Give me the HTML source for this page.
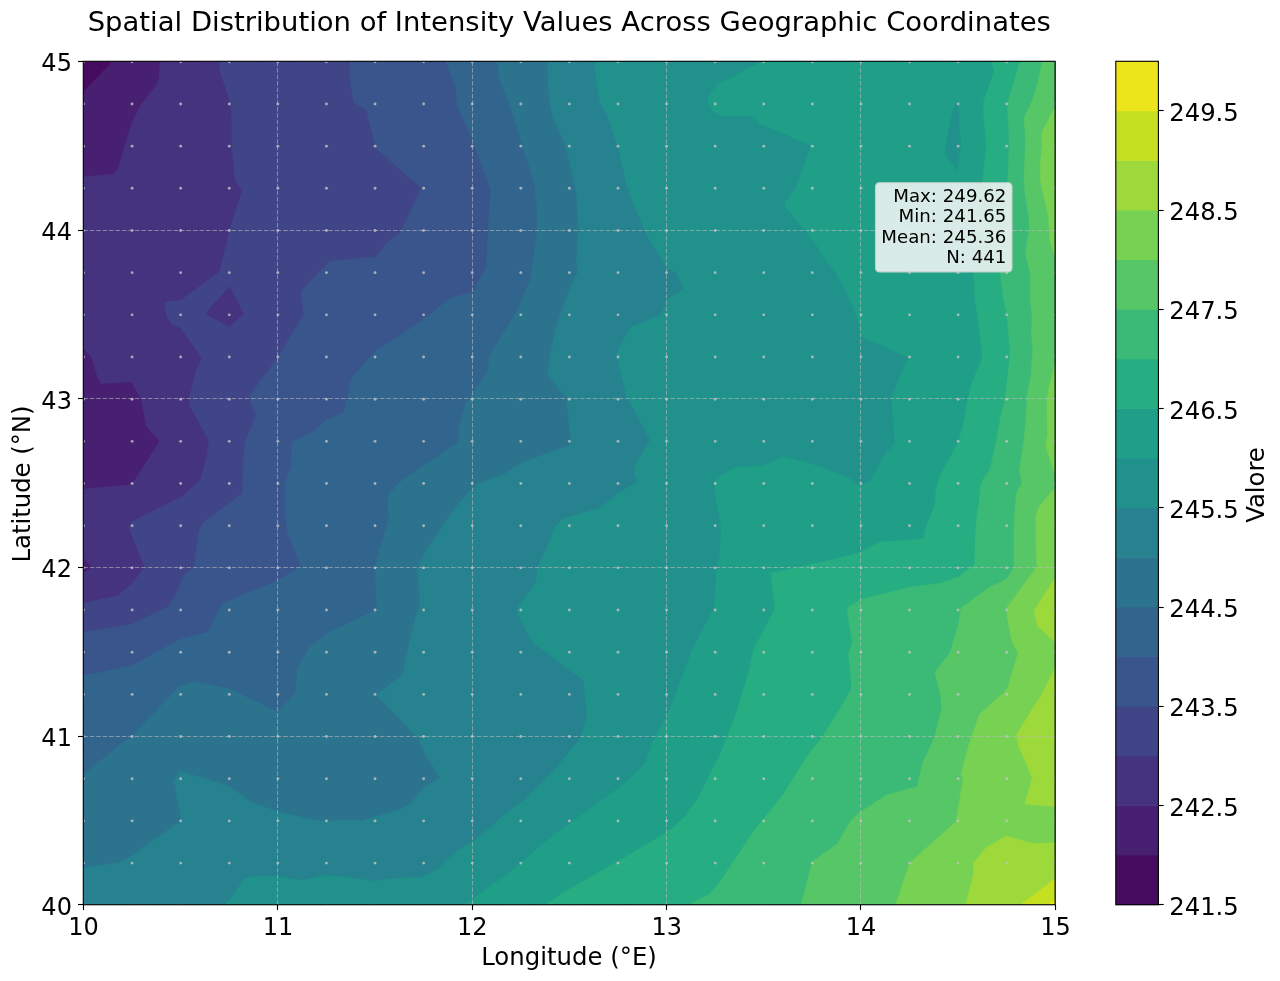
<!DOCTYPE html>
<html lang="en"><head><meta charset="utf-8"><title>Spatial Distribution of Intensity Values</title>
<style>html,body{margin:0;padding:0;background:#fff;}body{width:1280px;height:981px;overflow:hidden;position:relative;}svg{display:block;will-change:transform;}text{font-family:'DejaVu Sans', 'Liberation Sans', sans-serif;fill:#000;}</style></head><body>
<svg width="1280" height="981" viewBox="0 0 1280 981">
<defs><clipPath id="axclip"><rect x="83.30" y="61.30" width="971.80" height="843.45"/></clipPath></defs>
<rect x="0" y="0" width="1280" height="981" fill="#ffffff"/>
<g clip-path="url(#axclip)">
<rect x="82.3" y="60.3" width="973.8" height="845.5" fill="#460b5e"/>
<polygon points="123.5,50.0 1070.0,50.0 1070.0,920.0 70.0,920.0 70.0,105.8" fill="#482071" stroke="#482071" stroke-width="0.5"/>
<polygon points="160.0,50.0 160.0,61.5 158.8,79.2 156.2,85.5 141.2,104.2 131.2,124.2 117.5,170.5 112.5,174.2 83.5,176.8 70.0,177.0 70.0,920.0 1070.0,920.0 1070.0,50.0" fill="#46337f" stroke="#46337f" stroke-width="0.5"/>
<polygon points="70.0,348.0 83.5,348.8 91.2,356.2 97.5,377.5 101.2,383.8 131.2,382.0 141.2,400.0 146.2,426.2 159.5,441.2 133.8,481.2 128.8,485.0 83.5,488.8 70.0,489.0" fill="#482071"/>
<polygon points="70.0,558.0 83.5,558.2 92.5,567.0 83.5,573.2 70.0,573.5" fill="#482071"/>
<polygon points="219.5,50.0 219.5,61.5 220.0,71.8 229.5,99.2 231.8,115.5 231.8,145.5 235.0,180.5 242.5,189.8 230.0,228.0 225.5,248.0 219.5,271.8 181.2,300.0 165.0,302.0 166.2,315.0 171.2,323.8 180.0,327.5 202.0,357.5 196.2,370.0 189.5,397.5 190.0,406.2 208.8,440.0 206.2,460.0 200.0,480.0 182.5,496.2 131.2,522.0 128.8,528.2 145.0,567.0 131.2,584.5 117.5,595.8 83.5,603.2 70.0,604.0 70.0,920.0 1070.0,920.0 1070.0,50.0" fill="#404588" stroke="#404588" stroke-width="0.5"/>
<polygon points="229.5,286.2 243.8,313.8 229.5,327.0 205.0,313.8" fill="#46337f"/>
<polygon points="350.0,50.0 350.0,61.5 350.0,80.5 353.8,103.0 366.2,109.2 373.8,140.5 376.8,149.5 400.0,169.5 421.2,188.0 400.0,233.0 387.5,241.8 376.2,256.8 330.0,261.0 302.5,289.2 301.2,294.2 303.8,315.0 277.5,357.5 250.0,395.0 250.0,401.2 256.2,415.0 245.0,442.5 243.0,460.0 242.5,492.5 241.2,494.5 202.5,523.2 198.8,532.0 193.8,567.0 183.8,574.5 176.2,594.5 167.5,607.0 131.2,624.5 83.5,632.0 70.0,633.0 70.0,920.0 1070.0,920.0 1070.0,50.0" fill="#39558c" stroke="#39558c" stroke-width="0.5"/>
<polygon points="445.8,50.0 445.8,61.5 456.2,88.0 457.0,105.5 472.5,140.5 490.5,189.2 488.8,218.0 486.2,267.0 472.5,292.5 451.2,297.5 421.2,321.2 400.0,335.5 373.8,352.5 351.2,378.8 343.8,412.5 326.2,420.0 313.8,431.2 292.0,442.5 291.2,467.5 285.0,483.8 285.0,514.5 288.0,533.2 301.2,565.8 277.5,580.8 222.5,603.2 207.5,632.0 180.0,639.5 131.2,665.8 83.5,675.8 70.0,676.5 70.0,920.0 1070.0,920.0 1070.0,50.0" fill="#32658e" stroke="#32658e" stroke-width="0.5"/>
<polygon points="497.5,50.0 497.5,61.5 498.8,78.0 510.0,105.5 522.5,145.5 535.0,185.5 537.0,213.0 537.0,233.0 531.2,275.5 530.0,280.0 517.5,310.0 490.0,355.0 487.5,372.5 471.2,395.0 465.0,405.0 458.0,430.0 459.5,438.8 456.2,443.8 400.0,482.0 387.5,495.8 388.8,519.5 375.0,567.0 377.0,609.5 330.0,632.0 310.0,647.0 297.5,668.2 295.5,693.5 277.5,711.8 230.0,689.0 195.0,681.5 180.0,686.0 131.2,736.5 83.5,774.0 70.0,775.0 70.0,920.0 1070.0,920.0 1070.0,50.0" fill="#2c738e" stroke="#2c738e" stroke-width="0.5"/>
<polygon points="547.0,50.0 547.0,61.5 548.0,83.0 550.0,105.5 553.8,120.5 565.0,144.2 572.5,175.5 576.2,193.0 578.0,218.0 577.5,248.0 576.2,261.8 578.0,272.0 572.5,282.5 565.0,302.5 557.5,322.5 551.2,350.0 548.0,370.0 549.5,377.5 566.2,397.5 568.0,412.5 570.8,440.0 570.0,445.0 522.5,462.5 502.5,475.0 477.5,483.8 470.0,491.0 453.8,509.5 423.8,554.5 418.0,569.5 420.0,604.5 415.0,618.2 402.5,674.5 400.0,677.0 376.2,695.0 400.0,719.0 418.8,739.0 425.0,754.0 440.0,777.8 425.0,786.5 410.0,804.0 400.0,809.5 362.5,820.2 317.5,821.0 277.5,811.5 250.0,801.5 230.0,786.5 180.0,771.0 173.8,780.2 181.2,820.2 131.2,856.5 117.5,862.8 83.5,867.8 70.0,868.5 70.0,920.0 1070.0,920.0 1070.0,50.0" fill="#26828e" stroke="#26828e" stroke-width="0.5"/>
<polygon points="595.0,50.0 595.0,61.5 595.8,80.5 600.0,103.0 607.5,115.5 617.5,145.5 627.5,188.0 635.0,208.0 646.2,234.2 665.0,265.5 676.2,273.0 683.8,288.5 666.2,300.0 662.5,312.5 657.5,316.2 630.0,327.5 616.2,353.8 620.0,370.0 626.2,395.0 650.0,440.0 633.8,467.5 633.8,472.5 638.0,482.0 617.5,493.2 600.0,507.8 563.8,518.2 555.0,527.0 547.5,547.0 537.5,567.0 536.2,582.0 517.5,608.2 517.5,613.2 530.0,638.2 535.0,644.5 583.8,680.5 586.2,708.0 586.2,717.8 580.0,739.0 555.0,769.0 522.5,801.5 507.5,811.5 480.0,836.5 457.5,850.2 437.5,869.0 423.8,877.0 400.0,877.8 375.0,881.0 326.2,874.8 302.5,880.2 277.5,876.5 257.5,876.0 245.0,877.8 230.0,899.0 225.0,903.5 223.0,920.0 1070.0,920.0 1070.0,50.0" fill="#21918c" stroke="#21918c" stroke-width="0.5"/>
<polygon points="762.0,50.0 761.0,61.5 736.0,75.5 720.0,83.0 711.0,92.0 707.0,100.5 712.5,110.5 720.0,115.5 736.0,115.5 752.0,115.5 761.0,124.0 811.0,145.5 797.0,185.5 785.0,203.0 786.0,208.0 811.0,238.0 833.5,270.0 844.8,287.5 857.2,317.5 861.0,336.2 908.5,357.5 892.2,395.0 892.2,405.0 895.2,442.5 883.5,456.2 871.0,480.0 859.8,486.2 846.0,476.2 811.0,463.8 783.5,457.0 761.0,466.2 736.0,467.0 720.0,476.2 713.8,481.2 716.2,499.5 721.0,527.0 720.0,554.5 716.2,574.5 714.5,607.0 691.2,652.0 675.0,697.0 665.0,719.0 652.5,741.5 646.2,761.5 635.0,774.0 617.5,789.0 555.0,834.0 507.5,874.0 472.5,899.0 466.2,903.5 464.0,920.0 1070.0,920.0 1070.0,50.0" fill="#1f9f88" stroke="#1f9f88" stroke-width="0.5"/>
<polygon points="957.4,100.6 958.7,105.6 959.3,128.2 960.6,138.2 960.6,148.3 957.4,170.9 948.7,159.6 944.9,154.6 945.2,145.8 953.1,108.2" fill="#21918c"/>
<polygon points="990.5,50.0 990.7,61.5 994.4,70.5 983.8,100.6 983.2,106.0 984.4,123.2 986.3,145.8 982.5,180.3 973.7,273.3 975.0,300.0 977.5,315.0 981.9,350.2 981.9,358.9 972.5,381.5 968.7,395.3 964.3,420.0 958.7,441.3 939.3,477.7 936.1,490.2 934.9,505.3 926.1,526.6 923.6,539.1 896.0,541.0 879.8,542.0 861.0,552.0 843.5,557.0 771.0,573.2 774.8,609.5 753.5,649.5 749.8,667.0 746.0,681.5 736.0,714.0 720.0,755.2 710.0,774.0 697.5,799.0 685.0,816.5 671.2,829.0 647.5,844.0 617.5,861.5 565.0,891.5 547.5,903.5 545.0,920.0 1070.0,920.0 1070.0,50.0" fill="#26ad81" stroke="#26ad81" stroke-width="0.5"/>
<polygon points="1020.3,50.0 1020.1,61.5 1008.2,100.6 1007.6,110.7 1008.9,133.2 1008.9,153.3 1007.6,180.3 1000.1,273.3 1003.8,300.0 1007.0,315.0 1010.1,350.2 1009.5,361.4 1006.3,387.8 1003.8,404.1 1000.1,420.0 996.3,441.3 991.3,463.9 988.8,471.4 984.4,477.1 980.6,485.2 978.8,505.3 976.9,515.3 975.0,542.9 974.8,564.5 958.5,577.0 941.0,583.2 911.0,587.0 861.0,599.5 848.5,607.0 847.2,612.0 852.2,642.0 848.5,654.5 851.5,682.0 851.0,689.5 838.5,711.5 821.0,739.0 808.5,754.0 783.5,794.0 753.5,831.5 736.0,857.8 720.0,881.5 710.0,894.0 691.2,903.5 689.0,920.0 1070.0,920.0 1070.0,50.0" fill="#3aba76" stroke="#3aba76" stroke-width="0.5"/>
<polygon points="1042.3,50.0 1042.1,61.5 1037.7,83.1 1032.1,100.6 1023.9,118.2 1025.2,133.2 1025.2,148.3 1023.9,178.0 1025.2,195.6 1028.9,218.1 1029.5,228.2 1025.2,253.2 1030.2,273.3 1030.2,300.0 1032.1,315.0 1031.4,330.1 1032.7,350.2 1030.8,375.2 1027.0,395.3 1025.8,420.0 1023.9,441.3 1019.5,470.2 1022.0,482.7 1016.4,492.7 1015.1,506.5 1013.9,526.6 1013.9,542.9 1014.0,567.0 1007.2,578.2 986.0,589.5 961.0,608.2 958.5,624.5 949.8,653.2 934.8,672.0 941.0,696.5 941.5,709.0 934.8,736.5 922.2,764.0 917.2,786.5 886.0,795.2 861.0,811.5 851.0,820.2 837.2,844.0 812.2,861.5 804.8,891.5 801.0,903.5 800.0,920.0 1070.0,920.0 1070.0,50.0" fill="#56c667" stroke="#56c667" stroke-width="0.5"/>
<polygon points="1070.0,106.0 1054.9,106.9 1041.5,133.2 1042.1,145.8 1040.2,162.1 1040.2,178.0 1041.5,188.0 1048.4,215.6 1049.6,238.2 1053.7,253.2 1054.9,255.0 1070.0,256.0" fill="#77d153" stroke="#77d153" stroke-width="0.5"/>
<polygon points="1070.0,362.0 1054.9,362.7 1052.1,375.2 1049.0,386.5 1047.1,399.0 1047.1,420.0 1047.7,432.5 1045.8,446.3 1053.4,470.2 1054.9,472.7 1070.0,473.0" fill="#77d153" stroke="#77d153" stroke-width="0.5"/>
<polygon points="1070.0,487.5 1054.9,488.0 1038.9,506.5 1035.8,516.6 1035.8,542.9 1036.8,567.0 1007.2,607.0 1007.2,617.0 1012.2,642.0 1018.0,653.2 1014.8,664.0 1007.2,689.0 1001.0,695.2 979.8,714.0 969.8,741.5 961.0,774.0 963.0,779.0 956.0,821.5 909.8,862.8 896.0,903.5 895.0,920.0 1070.0,920.0" fill="#77d153" stroke="#77d153" stroke-width="0.5"/>
<polygon points="1070.0,578.0 1054.9,578.2 1034.0,610.8 1037.2,625.8 1054.9,642.0 1070.0,642.5" fill="#9dd93b" stroke="#9dd93b" stroke-width="0.5"/>
<polygon points="1070.0,668.0 1054.9,668.6 1048.4,680.7 1041.5,695.1 1031.4,710.2 1023.9,722.7 1016.4,735.2 1018.3,745.3 1032.2,777.9 1024.8,804.0 1054.9,806.5 1070.0,806.5" fill="#9dd93b" stroke="#9dd93b" stroke-width="0.5"/>
<polygon points="1070.0,842.5 1054.9,842.8 1033.5,843.5 1006.0,836.0 986.0,847.8 973.5,862.8 973.5,874.0 966.0,903.5 965.5,920.0 1070.0,920.0" fill="#9dd93b" stroke="#9dd93b" stroke-width="0.5"/>
<polygon points="1070.0,868.0 1054.9,879.0 1021.0,904.5 1000.0,920.0 1070.0,920.0" fill="#c5e021" stroke="#c5e021" stroke-width="0.5"/>
<polygon points="1070.0,895.0 1054.9,899.7 1048.5,904.5 1040.0,920.0 1070.0,920.0" fill="#ece51b" stroke="#ece51b" stroke-width="0.5"/>
<line x1="83.50" y1="904.75" x2="83.50" y2="61.30" stroke="#bebebe" stroke-opacity="0.58" stroke-width="1.0" stroke-dasharray="4.55 1.9" fill="none"/>
<line x1="277.50" y1="904.75" x2="277.50" y2="61.30" stroke="#bebebe" stroke-opacity="0.58" stroke-width="1.0" stroke-dasharray="4.55 1.9" fill="none"/>
<line x1="472.50" y1="904.75" x2="472.50" y2="61.30" stroke="#bebebe" stroke-opacity="0.58" stroke-width="1.0" stroke-dasharray="4.55 1.9" fill="none"/>
<line x1="666.50" y1="904.75" x2="666.50" y2="61.30" stroke="#bebebe" stroke-opacity="0.58" stroke-width="1.0" stroke-dasharray="4.55 1.9" fill="none"/>
<line x1="860.50" y1="904.75" x2="860.50" y2="61.30" stroke="#bebebe" stroke-opacity="0.58" stroke-width="1.0" stroke-dasharray="4.55 1.9" fill="none"/>
<line x1="1055.50" y1="904.75" x2="1055.50" y2="61.30" stroke="#bebebe" stroke-opacity="0.58" stroke-width="1.0" stroke-dasharray="4.55 1.9" fill="none"/>
<line x1="83.30" y1="904.50" x2="1055.10" y2="904.50" stroke="#bebebe" stroke-opacity="0.58" stroke-width="1.0" stroke-dasharray="4.55 1.9" fill="none"/>
<line x1="83.30" y1="736.50" x2="1055.10" y2="736.50" stroke="#bebebe" stroke-opacity="0.58" stroke-width="1.0" stroke-dasharray="4.55 1.9" fill="none"/>
<line x1="83.30" y1="567.50" x2="1055.10" y2="567.50" stroke="#bebebe" stroke-opacity="0.58" stroke-width="1.0" stroke-dasharray="4.55 1.9" fill="none"/>
<line x1="83.30" y1="398.50" x2="1055.10" y2="398.50" stroke="#bebebe" stroke-opacity="0.58" stroke-width="1.0" stroke-dasharray="4.55 1.9" fill="none"/>
<line x1="83.30" y1="230.50" x2="1055.10" y2="230.50" stroke="#bebebe" stroke-opacity="0.58" stroke-width="1.0" stroke-dasharray="4.55 1.9" fill="none"/>
<line x1="83.30" y1="61.50" x2="1055.10" y2="61.50" stroke="#bebebe" stroke-opacity="0.58" stroke-width="1.0" stroke-dasharray="4.55 1.9" fill="none"/>
<g fill="#c4c4c4" fill-opacity="0.8"><circle cx="83.50" cy="61.80" r="1.45"/><circle cx="83.50" cy="103.97" r="1.45"/><circle cx="83.50" cy="146.14" r="1.45"/><circle cx="83.50" cy="188.32" r="1.45"/><circle cx="83.50" cy="230.49" r="1.45"/><circle cx="83.50" cy="272.66" r="1.45"/><circle cx="83.50" cy="314.83" r="1.45"/><circle cx="83.50" cy="357.01" r="1.45"/><circle cx="83.50" cy="399.18" r="1.45"/><circle cx="83.50" cy="441.35" r="1.45"/><circle cx="83.50" cy="483.53" r="1.45"/><circle cx="83.50" cy="525.70" r="1.45"/><circle cx="83.50" cy="567.87" r="1.45"/><circle cx="83.50" cy="610.04" r="1.45"/><circle cx="83.50" cy="652.21" r="1.45"/><circle cx="83.50" cy="694.39" r="1.45"/><circle cx="83.50" cy="736.56" r="1.45"/><circle cx="83.50" cy="778.73" r="1.45"/><circle cx="83.50" cy="820.90" r="1.45"/><circle cx="83.50" cy="863.08" r="1.45"/><circle cx="83.50" cy="905.25" r="1.45"/><circle cx="132.09" cy="61.80" r="1.45"/><circle cx="132.09" cy="103.97" r="1.45"/><circle cx="132.09" cy="146.14" r="1.45"/><circle cx="132.09" cy="188.32" r="1.45"/><circle cx="132.09" cy="230.49" r="1.45"/><circle cx="132.09" cy="272.66" r="1.45"/><circle cx="132.09" cy="314.83" r="1.45"/><circle cx="132.09" cy="357.01" r="1.45"/><circle cx="132.09" cy="399.18" r="1.45"/><circle cx="132.09" cy="441.35" r="1.45"/><circle cx="132.09" cy="483.53" r="1.45"/><circle cx="132.09" cy="525.70" r="1.45"/><circle cx="132.09" cy="567.87" r="1.45"/><circle cx="132.09" cy="610.04" r="1.45"/><circle cx="132.09" cy="652.21" r="1.45"/><circle cx="132.09" cy="694.39" r="1.45"/><circle cx="132.09" cy="736.56" r="1.45"/><circle cx="132.09" cy="778.73" r="1.45"/><circle cx="132.09" cy="820.90" r="1.45"/><circle cx="132.09" cy="863.08" r="1.45"/><circle cx="132.09" cy="905.25" r="1.45"/><circle cx="180.68" cy="61.80" r="1.45"/><circle cx="180.68" cy="103.97" r="1.45"/><circle cx="180.68" cy="146.14" r="1.45"/><circle cx="180.68" cy="188.32" r="1.45"/><circle cx="180.68" cy="230.49" r="1.45"/><circle cx="180.68" cy="272.66" r="1.45"/><circle cx="180.68" cy="314.83" r="1.45"/><circle cx="180.68" cy="357.01" r="1.45"/><circle cx="180.68" cy="399.18" r="1.45"/><circle cx="180.68" cy="441.35" r="1.45"/><circle cx="180.68" cy="483.53" r="1.45"/><circle cx="180.68" cy="525.70" r="1.45"/><circle cx="180.68" cy="567.87" r="1.45"/><circle cx="180.68" cy="610.04" r="1.45"/><circle cx="180.68" cy="652.21" r="1.45"/><circle cx="180.68" cy="694.39" r="1.45"/><circle cx="180.68" cy="736.56" r="1.45"/><circle cx="180.68" cy="778.73" r="1.45"/><circle cx="180.68" cy="820.90" r="1.45"/><circle cx="180.68" cy="863.08" r="1.45"/><circle cx="180.68" cy="905.25" r="1.45"/><circle cx="229.27" cy="61.80" r="1.45"/><circle cx="229.27" cy="103.97" r="1.45"/><circle cx="229.27" cy="146.14" r="1.45"/><circle cx="229.27" cy="188.32" r="1.45"/><circle cx="229.27" cy="230.49" r="1.45"/><circle cx="229.27" cy="272.66" r="1.45"/><circle cx="229.27" cy="314.83" r="1.45"/><circle cx="229.27" cy="357.01" r="1.45"/><circle cx="229.27" cy="399.18" r="1.45"/><circle cx="229.27" cy="441.35" r="1.45"/><circle cx="229.27" cy="483.53" r="1.45"/><circle cx="229.27" cy="525.70" r="1.45"/><circle cx="229.27" cy="567.87" r="1.45"/><circle cx="229.27" cy="610.04" r="1.45"/><circle cx="229.27" cy="652.21" r="1.45"/><circle cx="229.27" cy="694.39" r="1.45"/><circle cx="229.27" cy="736.56" r="1.45"/><circle cx="229.27" cy="778.73" r="1.45"/><circle cx="229.27" cy="820.90" r="1.45"/><circle cx="229.27" cy="863.08" r="1.45"/><circle cx="229.27" cy="905.25" r="1.45"/><circle cx="277.86" cy="61.80" r="1.45"/><circle cx="277.86" cy="103.97" r="1.45"/><circle cx="277.86" cy="146.14" r="1.45"/><circle cx="277.86" cy="188.32" r="1.45"/><circle cx="277.86" cy="230.49" r="1.45"/><circle cx="277.86" cy="272.66" r="1.45"/><circle cx="277.86" cy="314.83" r="1.45"/><circle cx="277.86" cy="357.01" r="1.45"/><circle cx="277.86" cy="399.18" r="1.45"/><circle cx="277.86" cy="441.35" r="1.45"/><circle cx="277.86" cy="483.53" r="1.45"/><circle cx="277.86" cy="525.70" r="1.45"/><circle cx="277.86" cy="567.87" r="1.45"/><circle cx="277.86" cy="610.04" r="1.45"/><circle cx="277.86" cy="652.21" r="1.45"/><circle cx="277.86" cy="694.39" r="1.45"/><circle cx="277.86" cy="736.56" r="1.45"/><circle cx="277.86" cy="778.73" r="1.45"/><circle cx="277.86" cy="820.90" r="1.45"/><circle cx="277.86" cy="863.08" r="1.45"/><circle cx="277.86" cy="905.25" r="1.45"/><circle cx="326.45" cy="61.80" r="1.45"/><circle cx="326.45" cy="103.97" r="1.45"/><circle cx="326.45" cy="146.14" r="1.45"/><circle cx="326.45" cy="188.32" r="1.45"/><circle cx="326.45" cy="230.49" r="1.45"/><circle cx="326.45" cy="272.66" r="1.45"/><circle cx="326.45" cy="314.83" r="1.45"/><circle cx="326.45" cy="357.01" r="1.45"/><circle cx="326.45" cy="399.18" r="1.45"/><circle cx="326.45" cy="441.35" r="1.45"/><circle cx="326.45" cy="483.53" r="1.45"/><circle cx="326.45" cy="525.70" r="1.45"/><circle cx="326.45" cy="567.87" r="1.45"/><circle cx="326.45" cy="610.04" r="1.45"/><circle cx="326.45" cy="652.21" r="1.45"/><circle cx="326.45" cy="694.39" r="1.45"/><circle cx="326.45" cy="736.56" r="1.45"/><circle cx="326.45" cy="778.73" r="1.45"/><circle cx="326.45" cy="820.90" r="1.45"/><circle cx="326.45" cy="863.08" r="1.45"/><circle cx="326.45" cy="905.25" r="1.45"/><circle cx="375.04" cy="61.80" r="1.45"/><circle cx="375.04" cy="103.97" r="1.45"/><circle cx="375.04" cy="146.14" r="1.45"/><circle cx="375.04" cy="188.32" r="1.45"/><circle cx="375.04" cy="230.49" r="1.45"/><circle cx="375.04" cy="272.66" r="1.45"/><circle cx="375.04" cy="314.83" r="1.45"/><circle cx="375.04" cy="357.01" r="1.45"/><circle cx="375.04" cy="399.18" r="1.45"/><circle cx="375.04" cy="441.35" r="1.45"/><circle cx="375.04" cy="483.53" r="1.45"/><circle cx="375.04" cy="525.70" r="1.45"/><circle cx="375.04" cy="567.87" r="1.45"/><circle cx="375.04" cy="610.04" r="1.45"/><circle cx="375.04" cy="652.21" r="1.45"/><circle cx="375.04" cy="694.39" r="1.45"/><circle cx="375.04" cy="736.56" r="1.45"/><circle cx="375.04" cy="778.73" r="1.45"/><circle cx="375.04" cy="820.90" r="1.45"/><circle cx="375.04" cy="863.08" r="1.45"/><circle cx="375.04" cy="905.25" r="1.45"/><circle cx="423.63" cy="61.80" r="1.45"/><circle cx="423.63" cy="103.97" r="1.45"/><circle cx="423.63" cy="146.14" r="1.45"/><circle cx="423.63" cy="188.32" r="1.45"/><circle cx="423.63" cy="230.49" r="1.45"/><circle cx="423.63" cy="272.66" r="1.45"/><circle cx="423.63" cy="314.83" r="1.45"/><circle cx="423.63" cy="357.01" r="1.45"/><circle cx="423.63" cy="399.18" r="1.45"/><circle cx="423.63" cy="441.35" r="1.45"/><circle cx="423.63" cy="483.53" r="1.45"/><circle cx="423.63" cy="525.70" r="1.45"/><circle cx="423.63" cy="567.87" r="1.45"/><circle cx="423.63" cy="610.04" r="1.45"/><circle cx="423.63" cy="652.21" r="1.45"/><circle cx="423.63" cy="694.39" r="1.45"/><circle cx="423.63" cy="736.56" r="1.45"/><circle cx="423.63" cy="778.73" r="1.45"/><circle cx="423.63" cy="820.90" r="1.45"/><circle cx="423.63" cy="863.08" r="1.45"/><circle cx="423.63" cy="905.25" r="1.45"/><circle cx="472.22" cy="61.80" r="1.45"/><circle cx="472.22" cy="103.97" r="1.45"/><circle cx="472.22" cy="146.14" r="1.45"/><circle cx="472.22" cy="188.32" r="1.45"/><circle cx="472.22" cy="230.49" r="1.45"/><circle cx="472.22" cy="272.66" r="1.45"/><circle cx="472.22" cy="314.83" r="1.45"/><circle cx="472.22" cy="357.01" r="1.45"/><circle cx="472.22" cy="399.18" r="1.45"/><circle cx="472.22" cy="441.35" r="1.45"/><circle cx="472.22" cy="483.53" r="1.45"/><circle cx="472.22" cy="525.70" r="1.45"/><circle cx="472.22" cy="567.87" r="1.45"/><circle cx="472.22" cy="610.04" r="1.45"/><circle cx="472.22" cy="652.21" r="1.45"/><circle cx="472.22" cy="694.39" r="1.45"/><circle cx="472.22" cy="736.56" r="1.45"/><circle cx="472.22" cy="778.73" r="1.45"/><circle cx="472.22" cy="820.90" r="1.45"/><circle cx="472.22" cy="863.08" r="1.45"/><circle cx="472.22" cy="905.25" r="1.45"/><circle cx="520.81" cy="61.80" r="1.45"/><circle cx="520.81" cy="103.97" r="1.45"/><circle cx="520.81" cy="146.14" r="1.45"/><circle cx="520.81" cy="188.32" r="1.45"/><circle cx="520.81" cy="230.49" r="1.45"/><circle cx="520.81" cy="272.66" r="1.45"/><circle cx="520.81" cy="314.83" r="1.45"/><circle cx="520.81" cy="357.01" r="1.45"/><circle cx="520.81" cy="399.18" r="1.45"/><circle cx="520.81" cy="441.35" r="1.45"/><circle cx="520.81" cy="483.53" r="1.45"/><circle cx="520.81" cy="525.70" r="1.45"/><circle cx="520.81" cy="567.87" r="1.45"/><circle cx="520.81" cy="610.04" r="1.45"/><circle cx="520.81" cy="652.21" r="1.45"/><circle cx="520.81" cy="694.39" r="1.45"/><circle cx="520.81" cy="736.56" r="1.45"/><circle cx="520.81" cy="778.73" r="1.45"/><circle cx="520.81" cy="820.90" r="1.45"/><circle cx="520.81" cy="863.08" r="1.45"/><circle cx="520.81" cy="905.25" r="1.45"/><circle cx="569.40" cy="61.80" r="1.45"/><circle cx="569.40" cy="103.97" r="1.45"/><circle cx="569.40" cy="146.14" r="1.45"/><circle cx="569.40" cy="188.32" r="1.45"/><circle cx="569.40" cy="230.49" r="1.45"/><circle cx="569.40" cy="272.66" r="1.45"/><circle cx="569.40" cy="314.83" r="1.45"/><circle cx="569.40" cy="357.01" r="1.45"/><circle cx="569.40" cy="399.18" r="1.45"/><circle cx="569.40" cy="441.35" r="1.45"/><circle cx="569.40" cy="483.53" r="1.45"/><circle cx="569.40" cy="525.70" r="1.45"/><circle cx="569.40" cy="567.87" r="1.45"/><circle cx="569.40" cy="610.04" r="1.45"/><circle cx="569.40" cy="652.21" r="1.45"/><circle cx="569.40" cy="694.39" r="1.45"/><circle cx="569.40" cy="736.56" r="1.45"/><circle cx="569.40" cy="778.73" r="1.45"/><circle cx="569.40" cy="820.90" r="1.45"/><circle cx="569.40" cy="863.08" r="1.45"/><circle cx="569.40" cy="905.25" r="1.45"/><circle cx="617.99" cy="61.80" r="1.45"/><circle cx="617.99" cy="103.97" r="1.45"/><circle cx="617.99" cy="146.14" r="1.45"/><circle cx="617.99" cy="188.32" r="1.45"/><circle cx="617.99" cy="230.49" r="1.45"/><circle cx="617.99" cy="272.66" r="1.45"/><circle cx="617.99" cy="314.83" r="1.45"/><circle cx="617.99" cy="357.01" r="1.45"/><circle cx="617.99" cy="399.18" r="1.45"/><circle cx="617.99" cy="441.35" r="1.45"/><circle cx="617.99" cy="483.53" r="1.45"/><circle cx="617.99" cy="525.70" r="1.45"/><circle cx="617.99" cy="567.87" r="1.45"/><circle cx="617.99" cy="610.04" r="1.45"/><circle cx="617.99" cy="652.21" r="1.45"/><circle cx="617.99" cy="694.39" r="1.45"/><circle cx="617.99" cy="736.56" r="1.45"/><circle cx="617.99" cy="778.73" r="1.45"/><circle cx="617.99" cy="820.90" r="1.45"/><circle cx="617.99" cy="863.08" r="1.45"/><circle cx="617.99" cy="905.25" r="1.45"/><circle cx="666.58" cy="61.80" r="1.45"/><circle cx="666.58" cy="103.97" r="1.45"/><circle cx="666.58" cy="146.14" r="1.45"/><circle cx="666.58" cy="188.32" r="1.45"/><circle cx="666.58" cy="230.49" r="1.45"/><circle cx="666.58" cy="272.66" r="1.45"/><circle cx="666.58" cy="314.83" r="1.45"/><circle cx="666.58" cy="357.01" r="1.45"/><circle cx="666.58" cy="399.18" r="1.45"/><circle cx="666.58" cy="441.35" r="1.45"/><circle cx="666.58" cy="483.53" r="1.45"/><circle cx="666.58" cy="525.70" r="1.45"/><circle cx="666.58" cy="567.87" r="1.45"/><circle cx="666.58" cy="610.04" r="1.45"/><circle cx="666.58" cy="652.21" r="1.45"/><circle cx="666.58" cy="694.39" r="1.45"/><circle cx="666.58" cy="736.56" r="1.45"/><circle cx="666.58" cy="778.73" r="1.45"/><circle cx="666.58" cy="820.90" r="1.45"/><circle cx="666.58" cy="863.08" r="1.45"/><circle cx="666.58" cy="905.25" r="1.45"/><circle cx="715.17" cy="61.80" r="1.45"/><circle cx="715.17" cy="103.97" r="1.45"/><circle cx="715.17" cy="146.14" r="1.45"/><circle cx="715.17" cy="188.32" r="1.45"/><circle cx="715.17" cy="230.49" r="1.45"/><circle cx="715.17" cy="272.66" r="1.45"/><circle cx="715.17" cy="314.83" r="1.45"/><circle cx="715.17" cy="357.01" r="1.45"/><circle cx="715.17" cy="399.18" r="1.45"/><circle cx="715.17" cy="441.35" r="1.45"/><circle cx="715.17" cy="483.53" r="1.45"/><circle cx="715.17" cy="525.70" r="1.45"/><circle cx="715.17" cy="567.87" r="1.45"/><circle cx="715.17" cy="610.04" r="1.45"/><circle cx="715.17" cy="652.21" r="1.45"/><circle cx="715.17" cy="694.39" r="1.45"/><circle cx="715.17" cy="736.56" r="1.45"/><circle cx="715.17" cy="778.73" r="1.45"/><circle cx="715.17" cy="820.90" r="1.45"/><circle cx="715.17" cy="863.08" r="1.45"/><circle cx="715.17" cy="905.25" r="1.45"/><circle cx="763.76" cy="61.80" r="1.45"/><circle cx="763.76" cy="103.97" r="1.45"/><circle cx="763.76" cy="146.14" r="1.45"/><circle cx="763.76" cy="188.32" r="1.45"/><circle cx="763.76" cy="230.49" r="1.45"/><circle cx="763.76" cy="272.66" r="1.45"/><circle cx="763.76" cy="314.83" r="1.45"/><circle cx="763.76" cy="357.01" r="1.45"/><circle cx="763.76" cy="399.18" r="1.45"/><circle cx="763.76" cy="441.35" r="1.45"/><circle cx="763.76" cy="483.53" r="1.45"/><circle cx="763.76" cy="525.70" r="1.45"/><circle cx="763.76" cy="567.87" r="1.45"/><circle cx="763.76" cy="610.04" r="1.45"/><circle cx="763.76" cy="652.21" r="1.45"/><circle cx="763.76" cy="694.39" r="1.45"/><circle cx="763.76" cy="736.56" r="1.45"/><circle cx="763.76" cy="778.73" r="1.45"/><circle cx="763.76" cy="820.90" r="1.45"/><circle cx="763.76" cy="863.08" r="1.45"/><circle cx="763.76" cy="905.25" r="1.45"/><circle cx="812.35" cy="61.80" r="1.45"/><circle cx="812.35" cy="103.97" r="1.45"/><circle cx="812.35" cy="146.14" r="1.45"/><circle cx="812.35" cy="188.32" r="1.45"/><circle cx="812.35" cy="230.49" r="1.45"/><circle cx="812.35" cy="272.66" r="1.45"/><circle cx="812.35" cy="314.83" r="1.45"/><circle cx="812.35" cy="357.01" r="1.45"/><circle cx="812.35" cy="399.18" r="1.45"/><circle cx="812.35" cy="441.35" r="1.45"/><circle cx="812.35" cy="483.53" r="1.45"/><circle cx="812.35" cy="525.70" r="1.45"/><circle cx="812.35" cy="567.87" r="1.45"/><circle cx="812.35" cy="610.04" r="1.45"/><circle cx="812.35" cy="652.21" r="1.45"/><circle cx="812.35" cy="694.39" r="1.45"/><circle cx="812.35" cy="736.56" r="1.45"/><circle cx="812.35" cy="778.73" r="1.45"/><circle cx="812.35" cy="820.90" r="1.45"/><circle cx="812.35" cy="863.08" r="1.45"/><circle cx="812.35" cy="905.25" r="1.45"/><circle cx="860.94" cy="61.80" r="1.45"/><circle cx="860.94" cy="103.97" r="1.45"/><circle cx="860.94" cy="146.14" r="1.45"/><circle cx="860.94" cy="188.32" r="1.45"/><circle cx="860.94" cy="230.49" r="1.45"/><circle cx="860.94" cy="272.66" r="1.45"/><circle cx="860.94" cy="314.83" r="1.45"/><circle cx="860.94" cy="357.01" r="1.45"/><circle cx="860.94" cy="399.18" r="1.45"/><circle cx="860.94" cy="441.35" r="1.45"/><circle cx="860.94" cy="483.53" r="1.45"/><circle cx="860.94" cy="525.70" r="1.45"/><circle cx="860.94" cy="567.87" r="1.45"/><circle cx="860.94" cy="610.04" r="1.45"/><circle cx="860.94" cy="652.21" r="1.45"/><circle cx="860.94" cy="694.39" r="1.45"/><circle cx="860.94" cy="736.56" r="1.45"/><circle cx="860.94" cy="778.73" r="1.45"/><circle cx="860.94" cy="820.90" r="1.45"/><circle cx="860.94" cy="863.08" r="1.45"/><circle cx="860.94" cy="905.25" r="1.45"/><circle cx="909.53" cy="61.80" r="1.45"/><circle cx="909.53" cy="103.97" r="1.45"/><circle cx="909.53" cy="146.14" r="1.45"/><circle cx="909.53" cy="188.32" r="1.45"/><circle cx="909.53" cy="230.49" r="1.45"/><circle cx="909.53" cy="272.66" r="1.45"/><circle cx="909.53" cy="314.83" r="1.45"/><circle cx="909.53" cy="357.01" r="1.45"/><circle cx="909.53" cy="399.18" r="1.45"/><circle cx="909.53" cy="441.35" r="1.45"/><circle cx="909.53" cy="483.53" r="1.45"/><circle cx="909.53" cy="525.70" r="1.45"/><circle cx="909.53" cy="567.87" r="1.45"/><circle cx="909.53" cy="610.04" r="1.45"/><circle cx="909.53" cy="652.21" r="1.45"/><circle cx="909.53" cy="694.39" r="1.45"/><circle cx="909.53" cy="736.56" r="1.45"/><circle cx="909.53" cy="778.73" r="1.45"/><circle cx="909.53" cy="820.90" r="1.45"/><circle cx="909.53" cy="863.08" r="1.45"/><circle cx="909.53" cy="905.25" r="1.45"/><circle cx="958.12" cy="61.80" r="1.45"/><circle cx="958.12" cy="103.97" r="1.45"/><circle cx="958.12" cy="146.14" r="1.45"/><circle cx="958.12" cy="188.32" r="1.45"/><circle cx="958.12" cy="230.49" r="1.45"/><circle cx="958.12" cy="272.66" r="1.45"/><circle cx="958.12" cy="314.83" r="1.45"/><circle cx="958.12" cy="357.01" r="1.45"/><circle cx="958.12" cy="399.18" r="1.45"/><circle cx="958.12" cy="441.35" r="1.45"/><circle cx="958.12" cy="483.53" r="1.45"/><circle cx="958.12" cy="525.70" r="1.45"/><circle cx="958.12" cy="567.87" r="1.45"/><circle cx="958.12" cy="610.04" r="1.45"/><circle cx="958.12" cy="652.21" r="1.45"/><circle cx="958.12" cy="694.39" r="1.45"/><circle cx="958.12" cy="736.56" r="1.45"/><circle cx="958.12" cy="778.73" r="1.45"/><circle cx="958.12" cy="820.90" r="1.45"/><circle cx="958.12" cy="863.08" r="1.45"/><circle cx="958.12" cy="905.25" r="1.45"/><circle cx="1006.71" cy="61.80" r="1.45"/><circle cx="1006.71" cy="103.97" r="1.45"/><circle cx="1006.71" cy="146.14" r="1.45"/><circle cx="1006.71" cy="188.32" r="1.45"/><circle cx="1006.71" cy="230.49" r="1.45"/><circle cx="1006.71" cy="272.66" r="1.45"/><circle cx="1006.71" cy="314.83" r="1.45"/><circle cx="1006.71" cy="357.01" r="1.45"/><circle cx="1006.71" cy="399.18" r="1.45"/><circle cx="1006.71" cy="441.35" r="1.45"/><circle cx="1006.71" cy="483.53" r="1.45"/><circle cx="1006.71" cy="525.70" r="1.45"/><circle cx="1006.71" cy="567.87" r="1.45"/><circle cx="1006.71" cy="610.04" r="1.45"/><circle cx="1006.71" cy="652.21" r="1.45"/><circle cx="1006.71" cy="694.39" r="1.45"/><circle cx="1006.71" cy="736.56" r="1.45"/><circle cx="1006.71" cy="778.73" r="1.45"/><circle cx="1006.71" cy="820.90" r="1.45"/><circle cx="1006.71" cy="863.08" r="1.45"/><circle cx="1006.71" cy="905.25" r="1.45"/><circle cx="1055.30" cy="61.80" r="1.45"/><circle cx="1055.30" cy="103.97" r="1.45"/><circle cx="1055.30" cy="146.14" r="1.45"/><circle cx="1055.30" cy="188.32" r="1.45"/><circle cx="1055.30" cy="230.49" r="1.45"/><circle cx="1055.30" cy="272.66" r="1.45"/><circle cx="1055.30" cy="314.83" r="1.45"/><circle cx="1055.30" cy="357.01" r="1.45"/><circle cx="1055.30" cy="399.18" r="1.45"/><circle cx="1055.30" cy="441.35" r="1.45"/><circle cx="1055.30" cy="483.53" r="1.45"/><circle cx="1055.30" cy="525.70" r="1.45"/><circle cx="1055.30" cy="567.87" r="1.45"/><circle cx="1055.30" cy="610.04" r="1.45"/><circle cx="1055.30" cy="652.21" r="1.45"/><circle cx="1055.30" cy="694.39" r="1.45"/><circle cx="1055.30" cy="736.56" r="1.45"/><circle cx="1055.30" cy="778.73" r="1.45"/><circle cx="1055.30" cy="820.90" r="1.45"/><circle cx="1055.30" cy="863.08" r="1.45"/><circle cx="1055.30" cy="905.25" r="1.45"/></g>
</g>
<rect x="875.5" y="182.8" width="136.5" height="89.1" rx="3.8" ry="3.8" fill="#e6f1ed" fill-opacity="0.93" stroke="#c9cfcd" stroke-width="1.1"/>
<text transform="translate(1006.40,201.80) scale(1.0280,1)" font-size="17.70" text-anchor="end">Max: 249.62</text>
<text transform="translate(1006.40,222.30) scale(1.0280,1)" font-size="17.70" text-anchor="end">Min: 241.65</text>
<text transform="translate(1006.40,242.80) scale(1.0280,1)" font-size="17.70" text-anchor="end">Mean: 245.36</text>
<text transform="translate(1006.40,263.30) scale(1.0280,1)" font-size="17.70" text-anchor="end">N: 441</text>
<rect x="83.30" y="61.30" width="971.80" height="843.45" fill="none" stroke="#000" stroke-width="1.11"/>
<line x1="83.50" y1="904.75" x2="83.50" y2="910.05" stroke="#000" stroke-width="1.11"/>
<text transform="translate(83.60,935.20) scale(0.9450,1)" font-size="25.40" text-anchor="middle">10</text>
<line x1="277.50" y1="904.75" x2="277.50" y2="910.05" stroke="#000" stroke-width="1.11"/>
<text transform="translate(277.96,935.20) scale(0.9450,1)" font-size="25.40" text-anchor="middle">11</text>
<line x1="472.50" y1="904.75" x2="472.50" y2="910.05" stroke="#000" stroke-width="1.11"/>
<text transform="translate(472.32,935.20) scale(0.9450,1)" font-size="25.40" text-anchor="middle">12</text>
<line x1="666.50" y1="904.75" x2="666.50" y2="910.05" stroke="#000" stroke-width="1.11"/>
<text transform="translate(666.68,935.20) scale(0.9450,1)" font-size="25.40" text-anchor="middle">13</text>
<line x1="860.50" y1="904.75" x2="860.50" y2="910.05" stroke="#000" stroke-width="1.11"/>
<text transform="translate(861.04,935.20) scale(0.9450,1)" font-size="25.40" text-anchor="middle">14</text>
<line x1="1055.50" y1="904.75" x2="1055.50" y2="910.05" stroke="#000" stroke-width="1.11"/>
<text transform="translate(1055.40,935.20) scale(0.9450,1)" font-size="25.40" text-anchor="middle">15</text>
<line x1="83.30" y1="904.50" x2="78.00" y2="904.50" stroke="#000" stroke-width="1.11"/>
<text transform="translate(71.90,914.75) scale(0.9450,1)" font-size="25.40" text-anchor="end">40</text>
<line x1="83.30" y1="736.50" x2="78.00" y2="736.50" stroke="#000" stroke-width="1.11"/>
<text transform="translate(71.90,746.06) scale(0.9450,1)" font-size="25.40" text-anchor="end">41</text>
<line x1="83.30" y1="567.50" x2="78.00" y2="567.50" stroke="#000" stroke-width="1.11"/>
<text transform="translate(71.90,577.37) scale(0.9450,1)" font-size="25.40" text-anchor="end">42</text>
<line x1="83.30" y1="398.50" x2="78.00" y2="398.50" stroke="#000" stroke-width="1.11"/>
<text transform="translate(71.90,408.68) scale(0.9450,1)" font-size="25.40" text-anchor="end">43</text>
<line x1="83.30" y1="230.50" x2="78.00" y2="230.50" stroke="#000" stroke-width="1.11"/>
<text transform="translate(71.90,239.99) scale(0.9450,1)" font-size="25.40" text-anchor="end">44</text>
<line x1="83.30" y1="61.50" x2="78.00" y2="61.50" stroke="#000" stroke-width="1.11"/>
<text transform="translate(71.90,71.30) scale(0.9450,1)" font-size="25.40" text-anchor="end">45</text>
<text transform="translate(569.30,31.30)" font-size="27.45" text-anchor="middle">Spatial Distribution of Intensity Values Across Geographic Coordinates</text>
<text transform="translate(569.00,964.50) scale(1.0040,1)" font-size="24.30" text-anchor="middle">Longitude (°E)</text>
<text transform="translate(30.20,484.00) rotate(-90)" font-size="24.30" text-anchor="middle">Latitude (°N)</text>
<rect x="1115.80" y="854.84" width="42.60" height="50.21" fill="#460b5e"/>
<rect x="1115.80" y="805.22" width="42.60" height="50.21" fill="#482071"/>
<rect x="1115.80" y="755.61" width="42.60" height="50.21" fill="#46337f"/>
<rect x="1115.80" y="705.99" width="42.60" height="50.21" fill="#404588"/>
<rect x="1115.80" y="656.38" width="42.60" height="50.21" fill="#39558c"/>
<rect x="1115.80" y="606.76" width="42.60" height="50.21" fill="#32658e"/>
<rect x="1115.80" y="557.15" width="42.60" height="50.21" fill="#2c738e"/>
<rect x="1115.80" y="507.53" width="42.60" height="50.21" fill="#26828e"/>
<rect x="1115.80" y="457.92" width="42.60" height="50.21" fill="#21918c"/>
<rect x="1115.80" y="408.30" width="42.60" height="50.21" fill="#1f9f88"/>
<rect x="1115.80" y="358.69" width="42.60" height="50.21" fill="#26ad81"/>
<rect x="1115.80" y="309.07" width="42.60" height="50.21" fill="#3aba76"/>
<rect x="1115.80" y="259.46" width="42.60" height="50.21" fill="#56c667"/>
<rect x="1115.80" y="209.84" width="42.60" height="50.21" fill="#77d153"/>
<rect x="1115.80" y="160.23" width="42.60" height="50.21" fill="#9dd93b"/>
<rect x="1115.80" y="110.61" width="42.60" height="50.21" fill="#c5e021"/>
<rect x="1115.80" y="61.00" width="42.60" height="50.21" fill="#ece51b"/>
<rect x="1115.80" y="61.30" width="42.60" height="843.45" fill="none" stroke="#000" stroke-width="1.11"/>
<line x1="1158.40" y1="904.50" x2="1163.70" y2="904.50" stroke="#000" stroke-width="1.11"/>
<text transform="translate(1169.20,914.75) scale(0.9580,1)" font-size="25.40" text-anchor="start">241.5</text>
<line x1="1158.40" y1="805.50" x2="1163.70" y2="805.50" stroke="#000" stroke-width="1.11"/>
<text transform="translate(1169.20,815.52) scale(0.9580,1)" font-size="25.40" text-anchor="start">242.5</text>
<line x1="1158.40" y1="706.50" x2="1163.70" y2="706.50" stroke="#000" stroke-width="1.11"/>
<text transform="translate(1169.20,716.29) scale(0.9580,1)" font-size="25.40" text-anchor="start">243.5</text>
<line x1="1158.40" y1="607.50" x2="1163.70" y2="607.50" stroke="#000" stroke-width="1.11"/>
<text transform="translate(1169.20,617.06) scale(0.9580,1)" font-size="25.40" text-anchor="start">244.5</text>
<line x1="1158.40" y1="507.50" x2="1163.70" y2="507.50" stroke="#000" stroke-width="1.11"/>
<text transform="translate(1169.20,517.83) scale(0.9580,1)" font-size="25.40" text-anchor="start">245.5</text>
<line x1="1158.40" y1="408.50" x2="1163.70" y2="408.50" stroke="#000" stroke-width="1.11"/>
<text transform="translate(1169.20,418.60) scale(0.9580,1)" font-size="25.40" text-anchor="start">246.5</text>
<line x1="1158.40" y1="309.50" x2="1163.70" y2="309.50" stroke="#000" stroke-width="1.11"/>
<text transform="translate(1169.20,319.37) scale(0.9580,1)" font-size="25.40" text-anchor="start">247.5</text>
<line x1="1158.40" y1="210.50" x2="1163.70" y2="210.50" stroke="#000" stroke-width="1.11"/>
<text transform="translate(1169.20,220.14) scale(0.9580,1)" font-size="25.40" text-anchor="start">248.5</text>
<line x1="1158.40" y1="110.50" x2="1163.70" y2="110.50" stroke="#000" stroke-width="1.11"/>
<text transform="translate(1169.20,120.91) scale(0.9580,1)" font-size="25.40" text-anchor="start">249.5</text>
<text transform="translate(1264.20,485.00) rotate(-90)" font-size="24.30" text-anchor="middle">Valore</text>
</svg></body></html>
